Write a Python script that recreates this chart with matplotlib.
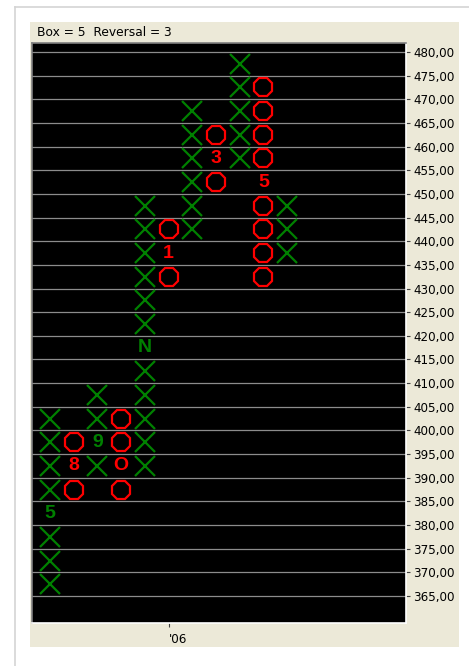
import matplotlib
matplotlib.use("Agg")
import matplotlib.pyplot as plt
from matplotlib.lines import Line2D
from matplotlib.patches import Rectangle

# point & figure columns (box = 5, reversal = 3)
col_type = ['X', 'O', 'X', 'O', 'X', 'O', 'X', 'O', 'X', 'O', 'X']
col_low = [365, 385, 390, 385, 390, 430, 440, 450, 455, 430, 435]
col_high = [400, 395, 405, 400, 445, 440, 465, 460, 475, 470, 445]

# month markers that replace a box: (column, box, label)
month_col = [0, 1, 2, 3, 4, 5, 7, 9]
month_box = [380, 390, 395, 390, 415, 435, 455, 450]
month_lab = ['5', '8', '9', 'O', 'N', '1', '3', '5']

price_ticks = list(range(365, 481, 5))
year_col = 5
year_lab = "'06"

BOX = 5
W, H = 469, 666
GREEN = '#008000'
RED = '#ff0000'

fig = plt.figure(figsize=(W / 100, H / 100), dpi=100, facecolor='white')

def fx(px):
    return px / W

def fy(py):
    return 1 - py / H

# outer light frame and beige panel (behind the axes)
fig.add_artist(Line2D([fx(15), fx(15)], [fy(7), 0], color='#d4d4d4', lw=1.2, zorder=-5))
fig.add_artist(Line2D([fx(15), 1], [fy(7), fy(7)], color='#d4d4d4', lw=1.2, zorder=-5))
fig.add_artist(Rectangle((fx(30), fy(647)), fx(459) - fx(30), fy(22) - fy(647),
                         facecolor='#ece9d8', edgecolor='none', zorder=-10))
fig.text(fx(37), fy(33), 'Box = 5  Reversal = 3', fontsize=8.8, va='center', ha='left')

ax = fig.add_axes([fx(32), fy(623), fx(406) - fx(32), fy(43) - fy(623)])
ax.set_facecolor('black')
ax.set_xlim(-0.76, 15.02)
ax.set_ylim(359.3, 481.9)

for p in price_ticks:
    ax.axhline(p, color='#8c8c8c', lw=0.9, zorder=1)

marks = set(zip(month_col, month_box))
for i, (t, lo, hi) in enumerate(zip(col_type, col_low, col_high)):
    boxes = [b for b in range(lo, hi + 1, BOX) if (i, b) not in marks]
    ys = [b + BOX / 2 for b in boxes]
    xs = [i] * len(ys)
    if t == 'X':
        ax.plot(xs, ys, ls='none', marker='x', ms=14, mew=1.6, color=GREEN, zorder=3)
    else:
        ax.plot(xs, ys, ls='none', marker='8', ms=14.5, mew=1.6, mfc='none',
                mec=RED, zorder=3)

for c, b, lab in zip(month_col, month_box, month_lab):
    color = GREEN if col_type[c] == 'X' else RED
    ax.text(c, b + BOX / 2, lab, color=color, fontsize=14, fontweight='bold',
            family='Liberation Sans', ha='center', va='center', zorder=4)

ax.yaxis.tick_right()
ax.set_yticks(price_ticks)
ax.set_yticklabels([f'{p},00' for p in price_ticks])
ax.tick_params(axis='y', length=3, width=0.8, color='#404040', pad=2,
               labelsize=8.6, labelcolor='black')
ax.set_xticks([year_col])
ax.set_xticklabels([year_lab])
ax.tick_params(axis='x', length=3, width=0.8, color='#404040', pad=4,
               labelsize=8.6)
for lab in ax.get_xticklabels():
    lab.set_horizontalalignment('left')

ax.spines['left'].set_color('#7f7f7f')
ax.spines['top'].set_color('#7f7f7f')
ax.spines['right'].set_color('white')
ax.spines['bottom'].set_color('white')
for s in ax.spines.values():
    s.set_linewidth(1.2)

fig.savefig('out.png', dpi=100, facecolor='white')
